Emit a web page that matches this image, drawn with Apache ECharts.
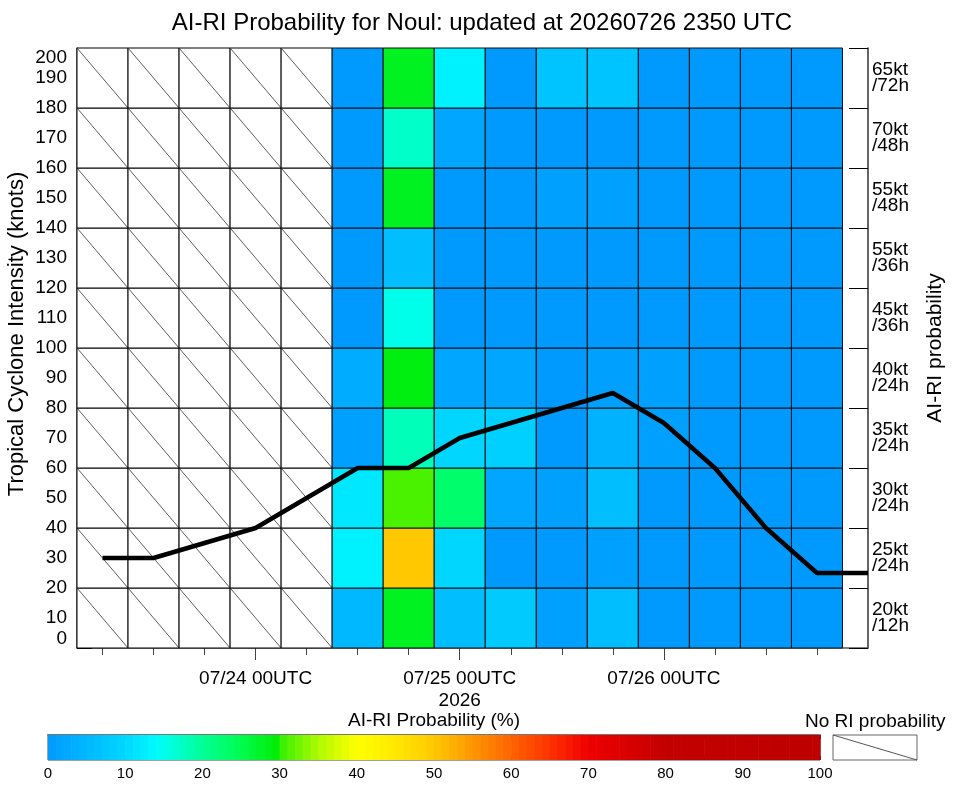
<!DOCTYPE html>
<html>
<head>
<meta charset="utf-8">
<script src="https://cdn.jsdelivr.net/npm/echarts@6/dist/echarts.min.js"></script>
<style>html,body{margin:0;padding:0;background:#fff}#c{width:964px;height:786px}</style>
</head>
<body>
<div id="c"></div>
<script>
// ---------- DATA ----------
// column centers: hours since 07/23 00UTC (6-hourly)
const colHours = [6, 12, 18, 24, 30, 36, 42, 48, 54, 60, 66, 72, 78, 84, 90];
// RI threshold rows (bottom to top)
const riLabels = ['20kt\n/12h', '25kt\n/24h', '30kt\n/24h', '35kt\n/24h', '40kt\n/24h',
                  '45kt\n/36h', '55kt\n/36h', '55kt\n/48h', '70kt\n/48h', '65kt\n/72h'];
// AI-RI probability (%) per row; null = no RI probability
const p20kt12h = [null, null, null, null, null, 5, 28, 6, 8, 1, 6, 0, 0, 0, 0];
const p25kt24h = [null, null, null, null, null, 13, 50, 10, 0, 0, 1, 0, 0, 0, 0];
const p30kt24h = [null, null, null, null, null, 12, 31, 23, 2, 1, 6, 0, 0, 0, 0];
const p35kt24h = [null, null, null, null, null, 1, 18, 10, 9, 0, 4, 1, 0, 0, 0];
const p40kt24h = [null, null, null, null, null, 3, 29, 2, 2, 0, 1, 1, 0, 0, 0];
const p45kt36h = [null, null, null, null, null, 0, 15, 0, 0, 0, 0, 0, 0, 0, 0];
const p55kt36h = [null, null, null, null, null, 0, 6, 0, 0, 0, 0, 0, 0, 0, 0];
const p55kt48h = [null, null, null, null, null, 0, 28, 0, 0, 1, 1, 0, 0, 0, 0];
const p70kt48h = [null, null, null, null, null, 0, 17, 2, 0, 0, 0, 0, 0, 0, 0];
const p65kt72h = [null, null, null, null, null, 0, 28, 13, 0, 7, 7, 0, 0, 0, 0];
const probRows = [p20kt12h, p25kt24h, p30kt24h, p35kt24h, p40kt24h,
                  p45kt36h, p55kt36h, p55kt48h, p70kt48h, p65kt72h];
// intensity track (knots)
const trackHours = [6, 12, 18, 24, 30, 36, 42, 48, 54, 60, 66, 72, 78, 84, 90, 96];
const trackKt    = [30, 30, 35, 40, 50, 60, 60, 70, 75, 80, 85, 75, 60, 40, 25, 25];
// x tick labels
const xTickHours = [24, 48, 72];
const xTickLabels = ['07/24 00UTC', '07/25 00UTC\n2026', '07/26 00UTC'];
const colorbarTicks = [0, 10, 20, 30, 40, 50, 60, 70, 80, 90, 100];

// ---------- colour map ----------
const cmapStops = [
  [0, [0,154,255]], [10, [0,214,255]], [14, [0,250,255]], [15, [0,255,235]],
  [20, [0,255,150]], [25, [0,252,80]], [30, [0,235,0]], [30.01, [50,240,0]],
  [35, [175,250,0]], [40, [255,255,0]], [45, [255,232,0]], [50, [255,200,0]],
  [55, [255,150,0]], [60, [255,100,0]], [65, [255,50,0]], [70, [240,0,0]],
  [80, [195,0,0]], [100, [190,0,0]]
];
function cmap(v) {
  for (let i = 1; i < cmapStops.length; i++) {
    const [v1, c1] = cmapStops[i], [v0, c0] = cmapStops[i - 1];
    if (v <= v1) {
      const t = (v - v0) / (v1 - v0);
      const c = c0.map((a, k) => Math.round(a + (c1[k] - a) * t));
      return 'rgb(' + c.join(',') + ')';
    }
  }
  return 'rgb(190,0,0)';
}

const cellData = [], noRIData = [];
probRows.forEach((row, r) => row.forEach((v, i) => {
  if (v === null) noRIData.push([colHours[i], r]);
  else cellData.push([colHours[i], r, v]);
}));
const colorbarLevels = Array.from({length: 100}, (_, i) => i);

function renderCell(params, api) {
  const x = api.value(0), r = api.value(1), v = api.value(2);
  const tl = api.coord([x - 3, (r + 1) * 20]), br = api.coord([x + 3, r * 20]);
  return {type: 'rect', shape: {x: tl[0], y: tl[1], width: br[0] - tl[0], height: br[1] - tl[1]},
          style: {fill: cmap(v), stroke: '#111', lineWidth: 1}};
}
function renderNoRI(params, api) {
  const x = api.value(0), r = api.value(1);
  const tl = api.coord([x - 3, (r + 1) * 20]), br = api.coord([x + 3, r * 20]);
  return {type: 'group', children: [
    {type: 'rect', shape: {x: tl[0], y: tl[1], width: br[0] - tl[0], height: br[1] - tl[1]},
     style: {fill: '#fff', stroke: '#000', lineWidth: 1}},
    {type: 'line', shape: {x1: tl[0], y1: tl[1], x2: br[0], y2: br[1]},
     style: {stroke: '#333', lineWidth: 0.8}}
  ]};
}
function renderBar(params, api) {
  const v = api.value(0);
  const tl = api.coord([v, 1]), br = api.coord([v + 1, 0]);
  return {type: 'rect', shape: {x: tl[0], y: tl[1], width: br[0] - tl[0] + 0.6, height: br[1] - tl[1]},
          style: {fill: cmap(v + 0.5)}};
}
function renderLegendHatch(params, api) {
  const tl = api.coord([0, 1]), br = api.coord([1, 0]);
  return {type: 'group', children: [
    {type: 'rect', shape: {x: tl[0], y: tl[1], width: br[0] - tl[0], height: br[1] - tl[1]},
     style: {fill: '#fff', stroke: '#666', lineWidth: 1}},
    {type: 'line', shape: {x1: tl[0], y1: tl[1], x2: br[0], y2: br[1]},
     style: {stroke: '#555', lineWidth: 1}}
  ]};
}

const FONT = 'Liberation Sans';
const chart = echarts.init(document.getElementById('c'), null, {renderer: 'canvas'});
chart.setOption({
  animation: false,
  backgroundColor: '#fff',
  textStyle: {fontFamily: FONT, color: '#000'},
  title: [
    {text: 'AI-RI Probability for Noul: updated at 20260726 2350 UTC', left: 'center', top: 6,
     textStyle: {fontFamily: FONT, fontSize: 24, fontWeight: 'normal', color: '#000'}},
    {text: 'No RI probability', left: 800, top: 707,
     textStyle: {fontFamily: FONT, fontSize: 19, fontWeight: 'normal', color: '#000'}}
  ],
  grid: [
    {left: 77, right: 96, top: 48, bottom: 138, containLabel: false, outerBoundsMode: 'none'},
    {left: 48, width: 772, top: 735, height: 25, show: true, borderColor: '#444', borderWidth: 1,
     containLabel: false, outerBoundsMode: 'none'},
    {left: 833, width: 84, top: 735, height: 25, containLabel: false, outerBoundsMode: 'none'}
  ],
  xAxis: [
    {gridIndex: 0, type: 'value', min: 3, max: 96, position: 'bottom',
     axisLine: {show: true, lineStyle: {color: '#555', width: 1.5}},
     axisTick: {show: true, inside: false, length: 7, customValues: colHours, lineStyle: {color: '#444'}},
     axisLabel: {show: false}, splitLine: {show: false}},
    {gridIndex: 0, type: 'value', min: 3, max: 96, position: 'bottom',
     axisLine: {show: false},
     axisTick: {show: true, inside: false, length: 12, customValues: xTickHours, lineStyle: {color: '#444'}},
     axisLabel: {show: true, customValues: xTickHours, margin: 20, fontSize: 19, lineHeight: 22,
                 fontFamily: FONT, color: '#000',
                 formatter: v => xTickLabels[xTickHours.indexOf(v)] || ''},
     splitLine: {show: false}},
    {gridIndex: 1, type: 'value', min: 0, max: 100, interval: 5, position: 'bottom',
     axisLine: {show: false},
     axisTick: {show: true, inside: true, length: 4, lineStyle: {color: '#333'}},
     axisLabel: {show: true, customValues: colorbarTicks, margin: 6, fontSize: 15, fontFamily: FONT, color: '#000'},
     splitLine: {show: false}},
    {gridIndex: 1, type: 'value', min: 0, max: 100, interval: 5, position: 'top',
     axisLine: {show: true, lineStyle: {color: '#777', width: 2}},
     axisTick: {show: true, inside: true, length: 4, lineStyle: {color: '#333'}},
     axisLabel: {show: false}, splitLine: {show: false},
     name: 'AI-RI Probability (%)', nameLocation: 'middle', nameGap: 5,
     nameTextStyle: {fontSize: 19, fontFamily: FONT, color: '#000', verticalAlign: 'bottom'}},
    {gridIndex: 2, type: 'value', min: 0, max: 1, show: false}
  ],
  yAxis: [
    {gridIndex: 0, type: 'value', min: 0, max: 200, interval: 10, position: 'left',
     axisLine: {show: true, lineStyle: {color: '#555', width: 1.5}},
     axisTick: {show: true, inside: true, length: 15, lineStyle: {color: '#000'}},
     axisLabel: {show: true, margin: 10, fontSize: 19, fontFamily: FONT, color: '#000',
                 verticalAlignMinLabel: 'bottom', verticalAlignMaxLabel: 'top'},
     splitLine: {show: false},
     name: 'Tropical Cyclone Intensity (knots)', nameLocation: 'middle', nameRotate: 90, nameGap: 49,
     nameMoveOverlap: false,
     nameTextStyle: {fontSize: 22, fontFamily: FONT, color: '#000', padding: [0, 0, 0, 28]}},
    {gridIndex: 0, type: 'value', min: 0, max: 200, interval: 20, position: 'right',
     axisLine: {show: true, lineStyle: {color: '#333', width: 1.5}},
     axisTick: {show: true, inside: true, length: 19, lineStyle: {color: '#000'}},
     axisLabel: {show: true, customValues: [10, 30, 50, 70, 90, 110, 130, 150, 170, 190],
                 margin: 4, fontSize: 19, lineHeight: 16, fontFamily: FONT, color: '#000', align: 'left',
                 formatter: v => riLabels[Math.round((v - 10) / 20)] || ''},
     splitLine: {show: false},
     name: 'AI-RI probability', nameLocation: 'middle', nameRotate: 90, nameGap: 57,
     nameTextStyle: {fontSize: 21, fontFamily: FONT, color: '#000'}},
    {gridIndex: 1, type: 'value', min: 0, max: 1, show: false},
    {gridIndex: 2, type: 'value', min: 0, max: 1, show: false}
  ],
  series: [
    {type: 'custom', name: 'noRI', xAxisIndex: 0, yAxisIndex: 0, renderItem: renderNoRI,
     data: noRIData, z: 1, silent: true},
    {type: 'custom', name: 'prob', xAxisIndex: 0, yAxisIndex: 0, renderItem: renderCell,
     data: cellData, z: 1, silent: true},
    {type: 'line', name: 'intensity', xAxisIndex: 0, yAxisIndex: 0,
     data: trackHours.map((h, i) => [h, trackKt[i]]),
     symbol: 'none', lineStyle: {color: '#000', width: 4.5}, z: 5, silent: true},
    {type: 'custom', name: 'colorbar', xAxisIndex: 2, yAxisIndex: 2, renderItem: renderBar,
     data: colorbarLevels.map(v => [v]), z: 1, silent: true},
    {type: 'custom', name: 'noRIlegend', xAxisIndex: 4, yAxisIndex: 3, renderItem: renderLegendHatch,
     data: [[0.5, 0.5]], z: 1, silent: true}
  ]
});
</script>
</body>
</html>
